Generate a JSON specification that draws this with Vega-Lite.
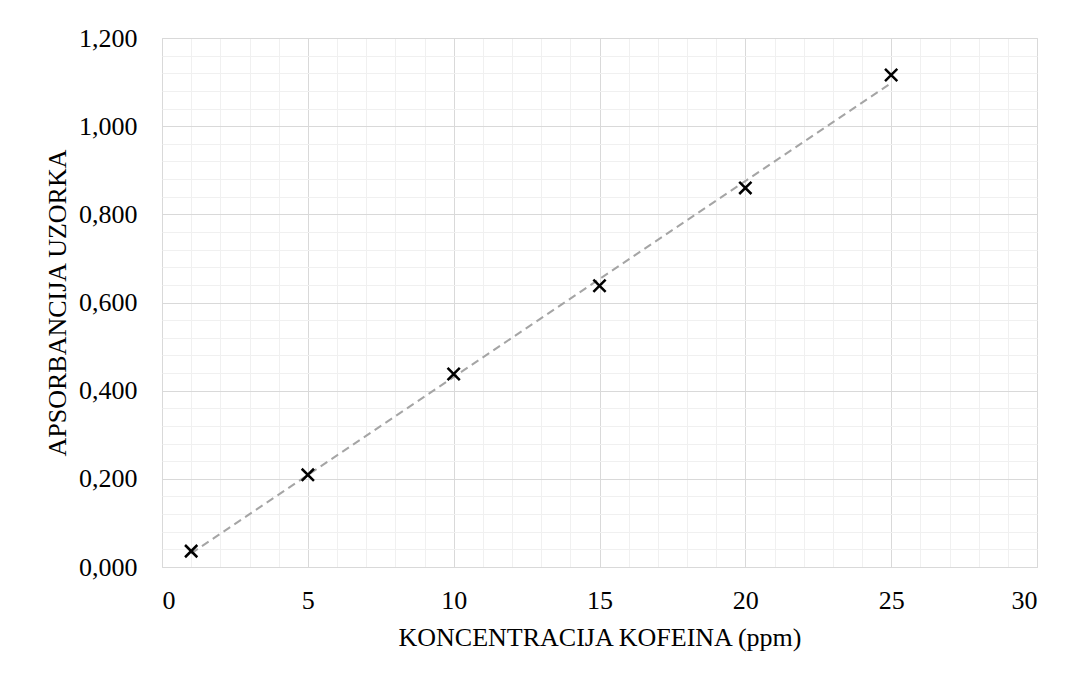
{
  "$schema": "https://vega.github.io/schema/vega-lite/v6.json",
  "width": 875,
  "height": 529,
  "autosize": "none",
  "padding": {"left": 162, "top": 38, "right": 34, "bottom": 112},
  "background": "white",
  "data": {
    "values": [
      {"conc": 1, "abs": 0.036},
      {"conc": 5, "abs": 0.209},
      {"conc": 10, "abs": 0.438},
      {"conc": 15, "abs": 0.638},
      {"conc": 20, "abs": 0.86},
      {"conc": 25, "abs": 1.116}
    ]
  },
  "encoding": {
    "x": {
      "field": "conc",
      "type": "quantitative",
      "title": "KONCENTRACIJA KOFEINA (ppm)",
      "scale": {"domain": [0, 30], "nice": false},
      "axis": {
        "values": [0, 1, 2, 3, 4, 5, 6, 7, 8, 9, 10, 11, 12, 13, 14, 15, 16, 17, 18, 19, 20, 21, 22, 23, 24, 25, 26, 27, 28, 29, 30],
        "labelExpr": "datum.value % 5 === 0 ? datum.label : ''",
        "labelOverlap": false,
        "labelPadding": 20,
        "titlePadding": 11,
        "gridColor": {
          "condition": {"test": "datum.value % 5 === 0", "value": "#d9d9d9"},
          "value": "#f0f0f0"
        }
      }
    },
    "y": {
      "field": "abs",
      "type": "quantitative",
      "title": "APSORBANCIJA UZORKA",
      "scale": {"domain": [0, 1.2], "nice": false},
      "axis": {
        "values": [0, 0.04, 0.08, 0.12, 0.16, 0.2, 0.24, 0.28, 0.32, 0.36, 0.4, 0.44, 0.48, 0.52, 0.56, 0.6, 0.64, 0.68, 0.72, 0.76, 0.8, 0.84, 0.88, 0.92, 0.96, 1.0, 1.04, 1.08, 1.12, 1.16, 1.2],
        "labelExpr": "abs(datum.value * 5 - round(datum.value * 5)) < 0.001 ? replace(format(datum.value, '.3f'), '.', ',') : ''",
        "labelOverlap": false,
        "labelPadding": 25,
        "titlePadding": 8,
        "gridColor": {
          "condition": {"test": "abs(datum.value * 5 - round(datum.value * 5)) < 0.001", "value": "#d9d9d9"},
          "value": "#f0f0f0"
        }
      }
    }
  },
  "layer": [
    {
      "transform": [{"regression": "abs", "on": "conc", "method": "linear"}],
      "mark": {"type": "line", "color": "#a5a5a5", "strokeWidth": 2, "strokeDash": [8, 5]}
    },
    {
      "mark": {
        "type": "point",
        "shape": "M-1,-1L1,1M-1,1L1,-1",
        "size": 150,
        "filled": false,
        "stroke": "black",
        "strokeWidth": 2.5,
        "opacity": 1
      }
    }
  ],
  "config": {
    "view": {"stroke": "#d9d9d9"},
    "axis": {
      "domain": false,
      "ticks": false,
      "tickSize": 0,
      "gridWidth": 1,
      "labelFont": "Liberation Serif",
      "labelFontSize": 26,
      "labelColor": "black",
      "titleFont": "Liberation Serif",
      "titleFontSize": 26,
      "titleFontWeight": "normal",
      "titleColor": "black"
    }
  }
}
